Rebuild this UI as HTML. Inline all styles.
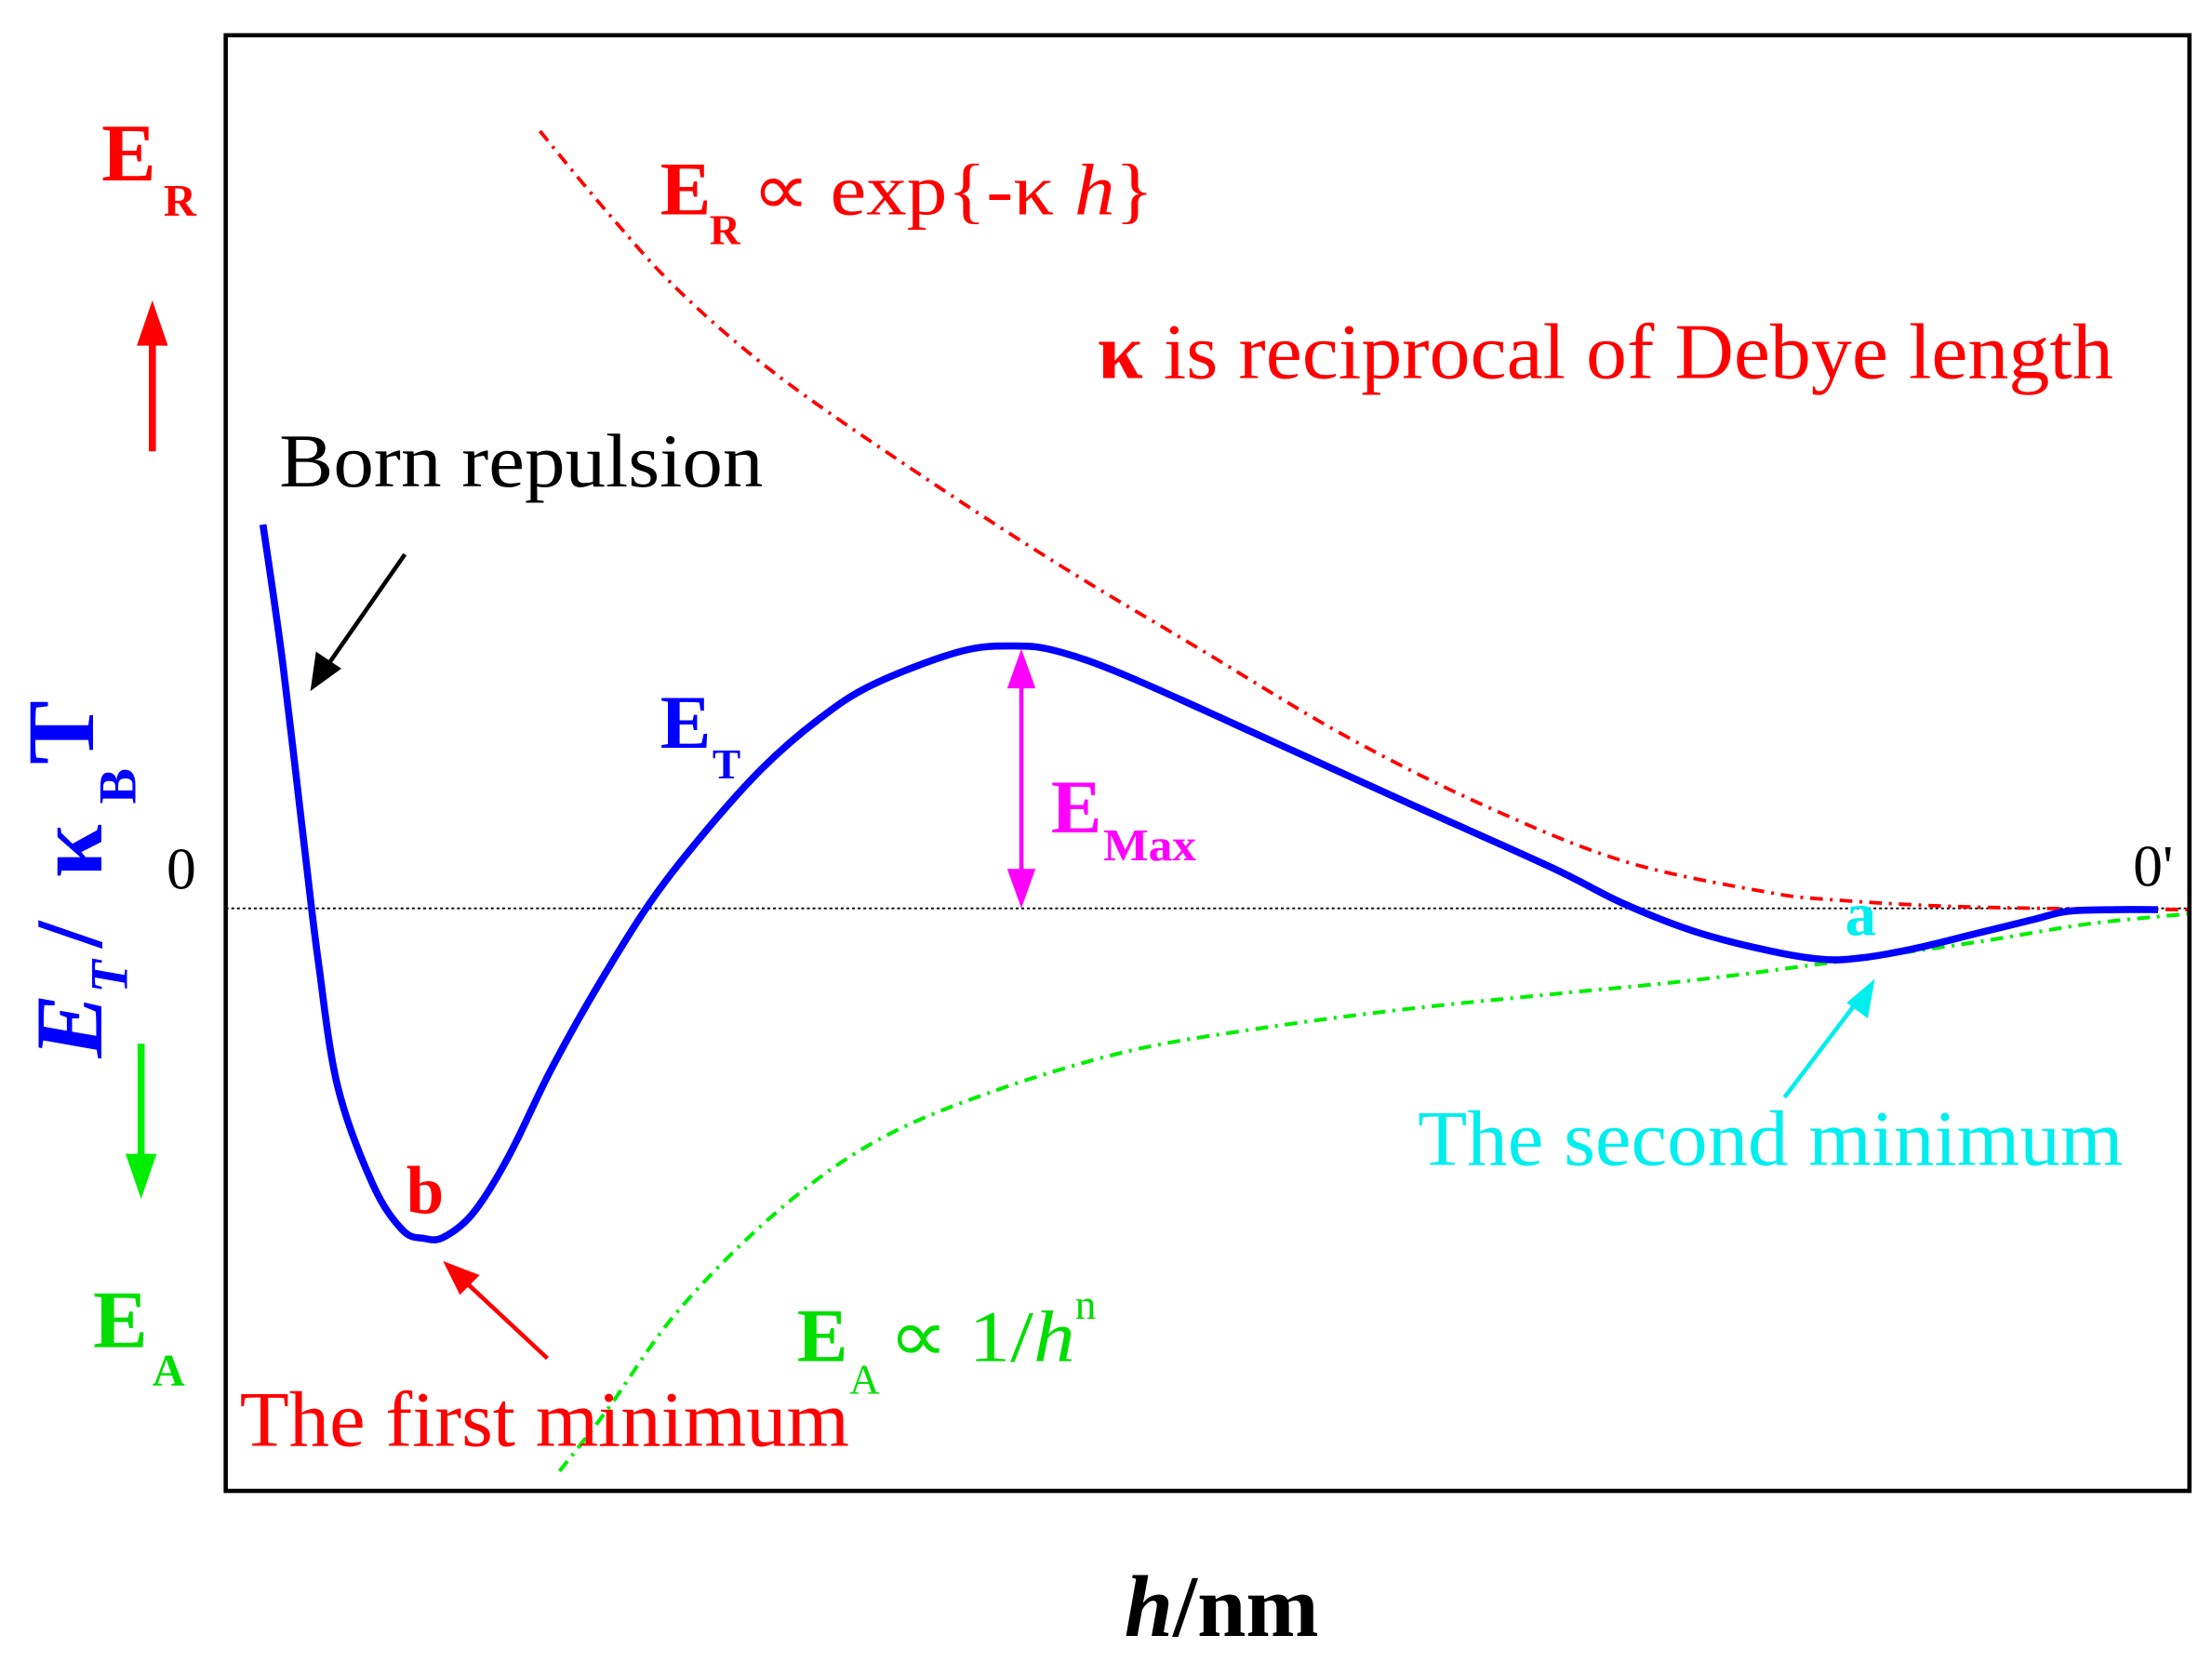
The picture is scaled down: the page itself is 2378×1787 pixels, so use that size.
<!DOCTYPE html>
<html><head><meta charset="utf-8"><style>
html,body{margin:0;padding:0;background:#fff;}
svg{display:block;}
text{font-family:"Liberation Serif",serif;}
</style></head><body>
<svg id="chart" width="2378" height="1787" viewBox="0 0 1568 1178.3" preserveAspectRatio="none" xmlns="http://www.w3.org/2000/svg">
<rect x="160" y="25" width="1392" height="1032" fill="none" stroke="#000" stroke-width="3"/>
<line x1="160" y1="644" x2="1552" y2="644" stroke="#000" stroke-width="1.2" stroke-dasharray="2 2"/>
<g id="series"></g>

<text x="72" y="128" font-size="58" font-weight="bold" fill="#ff0000">E</text>
<text x="116" y="153" font-size="32" font-weight="bold" fill="#ff0000">R</text>
<line x1="108" y1="320" x2="108" y2="242" stroke="#ff0000" stroke-width="5"/>
<polygon points="97,245 108,213 119,245" fill="#ff0000"/>

<line x1="100" y1="740" x2="100" y2="820" stroke="#00ee00" stroke-width="5"/>
<polygon points="89,818 100,850 111,818" fill="#00ee00"/>
<text x="66" y="955" font-size="58" font-weight="bold" fill="#00dd00">E</text>
<text x="108" y="982" font-size="32" font-weight="bold" fill="#00dd00">A</text>

<text x="118" y="630" font-size="42" fill="#000">0</text>
<text x="1512" y="628" font-size="42" fill="#000">0'</text>

<g transform="translate(72,750) rotate(-90)">
<text x="0" y="0" font-size="68" font-weight="bold" font-style="italic" fill="#0000ff">E</text>
<text x="46" y="18" font-size="38" font-weight="bold" font-style="italic" fill="#0000ff">T</text>
<text x="78" y="0" font-size="68" font-weight="bold" fill="#0000ff">/</text>
<text x="128" y="0" font-size="68" font-weight="bold" fill="#0000ff">κ</text>
<text x="180" y="24" font-size="38" font-weight="bold" fill="#0000ff">B</text>
<text x="208" y="-6" font-size="68" font-weight="bold" fill="#0000ff">T</text>
</g>

<text x="797" y="1160" font-size="62" font-weight="bold" fill="#000"><tspan font-style="italic">h</tspan>/nm</text>

<text x="468" y="152" font-size="54" font-weight="bold" fill="#ff0000">E</text>
<text x="503" y="173" font-size="30" font-weight="bold" fill="#ff0000">R</text>
<text x="533" y="152" font-size="52" fill="#ff0000" textLength="285" lengthAdjust="spacingAndGlyphs">∝ exp{-κ <tspan font-style="italic">h</tspan>}</text>
<text x="778" y="268" font-size="56" fill="#ff0000" textLength="720" lengthAdjust="spacingAndGlyphs"><tspan font-weight="bold">κ</tspan> is reciprocal of Debye length</text>
<text x="198" y="345" font-size="54" fill="#000" textLength="343" lengthAdjust="spacingAndGlyphs">Born repulsion</text>
<line x1="287" y1="393" x2="232" y2="472" stroke="#000" stroke-width="3"/>
<polygon points="220,490 224,462 242,474" fill="#000"/>

<text x="468" y="530" font-size="54" font-weight="bold" fill="#0000ff">E</text>
<text x="505" y="552" font-size="30" font-weight="bold" fill="#0000ff">T</text>

<line x1="724" y1="480" x2="724" y2="624" stroke="#ff00ff" stroke-width="3"/>
<polygon points="714,488 724,460 734,488" fill="#ff00ff"/>
<polygon points="714,616 724,644 734,616" fill="#ff00ff"/>
<text x="745" y="590" font-size="54" font-weight="bold" fill="#ff00ff">E</text>
<text x="782" y="610" font-size="32" font-weight="bold" fill="#ff00ff" textLength="66" lengthAdjust="spacingAndGlyphs">Max</text>

<text x="288" y="860" font-size="48" font-weight="bold" fill="#ff0000">b</text>
<text x="1308" y="663" font-size="44" font-weight="bold" fill="#00eeee">a</text>

<line x1="388" y1="963" x2="328" y2="907" stroke="#ff0000" stroke-width="3"/>
<polygon points="314,894 340,904 326,918" fill="#ff0000"/>
<text x="170" y="1025" font-size="56" fill="#ff0000" textLength="432" lengthAdjust="spacingAndGlyphs">The first minimum</text>

<line x1="1265" y1="778" x2="1318" y2="708" stroke="#00eeee" stroke-width="3"/>
<polygon points="1329,694 1324,722 1309,711" fill="#00eeee"/>
<text x="1005" y="826" font-size="56" fill="#00eeee" textLength="500" lengthAdjust="spacingAndGlyphs">The second minimum</text>

<text x="565" y="965" font-size="54" font-weight="bold" fill="#00dd00">E</text>
<text x="602" y="988" font-size="30" fill="#00dd00">A</text>
<text x="630" y="965" font-size="52" fill="#00dd00" textLength="132" lengthAdjust="spacingAndGlyphs">∝ 1/<tspan font-style="italic">h</tspan></text>
<text x="762" y="935" font-size="30" fill="#00dd00">n</text>
</svg>
<script>
const hT = [1.9,2.9,4.0,4.7,5.7,7.5,9.0,10.1,11.1,12.6,14.4,16.5,18.7,21.6,24.4,27.3,30.2,33.0,37.4,40.2,42.4,46.0,53.2,60.3,67.5,71.1,74.7,78.3,81.2,83.3,86.2,89.1,92.0,93.8,96.3,98.4];
const eT = [90.7,58,14.7,-12,-42,-65.3,-76,-78,-77.7,-72,-58.7,-38.7,-20.3,1.3,18,33,44.7,53,60.7,62,60.7,54.7,39.7,24.7,9.7,1.3,-5.3,-9.7,-12,-11.7,-9.3,-6,-2.7,-0.7,-0.3,-0.3];
const hR = [16.0,19.4,23.0,28.0,35.2,42.4,49.6,56.8,63.9,71.1,78.3,81.9,89.1,99.9];
const eR = [183.7,164.7,146.3,126.3,103,81.3,61.3,41.3,24.7,11.3,4,2,0.3,-0.3];
const hA = [17.0,19.4,23.0,28.0,33.0,38.8,46.0,53.2,60.3,67.5,74.7,81.9,89.1,94.8,99.9];
const eA = [-133,-118.7,-95.3,-72,-55.3,-43.7,-33.7,-28,-23.7,-20.3,-17,-12.7,-8,-3.7,-1.3];

function xScale(h){ return 160 + h * 13.92; }
function yScale(e){ return 644 - e * 3; }

function smoothPath(hs, es){
  const p = hs.map((h,i)=>[xScale(h), yScale(es[i])]);
  let d = 'M' + p[0][0].toFixed(1) + ',' + p[0][1].toFixed(1);
  for(let i=0;i<p.length-1;i++){
    const p0=p[Math.max(0,i-1)], p1=p[i], p2=p[i+1], p3=p[Math.min(p.length-1,i+2)];
    const c1x=p1[0]+(p2[0]-p0[0])/6, c1y=p1[1]+(p2[1]-p0[1])/6;
    const c2x=p2[0]-(p3[0]-p1[0])/6, c2y=p2[1]-(p3[1]-p1[1])/6;
    d += ' C'+c1x.toFixed(1)+','+c1y.toFixed(1)+' '+c2x.toFixed(1)+','+c2y.toFixed(1)+' '+p2[0].toFixed(1)+','+p2[1].toFixed(1);
  }
  return d;
}
const NS='http://www.w3.org/2000/svg';
const g=document.getElementById('series');

const red=document.createElementNS(NS,'path');
red.setAttribute('d', smoothPath(hR,eR));
red.setAttribute('fill','none');red.setAttribute('stroke','#ff0000');red.setAttribute('stroke-width','2.5');
red.setAttribute('stroke-dasharray','9 5 2 5');


g.appendChild(red);

const green=document.createElementNS(NS,'path');
green.setAttribute('d', smoothPath(hA,eA));
green.setAttribute('fill','none');green.setAttribute('stroke','#00ee00');green.setAttribute('stroke-width','2.7');
green.setAttribute('stroke-dasharray','9 5 2 5');


g.appendChild(green);

const blue=document.createElementNS(NS,'path');
blue.setAttribute('d', smoothPath(hT,eT));
blue.setAttribute('fill','none');blue.setAttribute('stroke','#0000ff');blue.setAttribute('stroke-width','5');
blue.setAttribute('stroke-linejoin','round');


g.appendChild(blue);
</script>
</body></html>
